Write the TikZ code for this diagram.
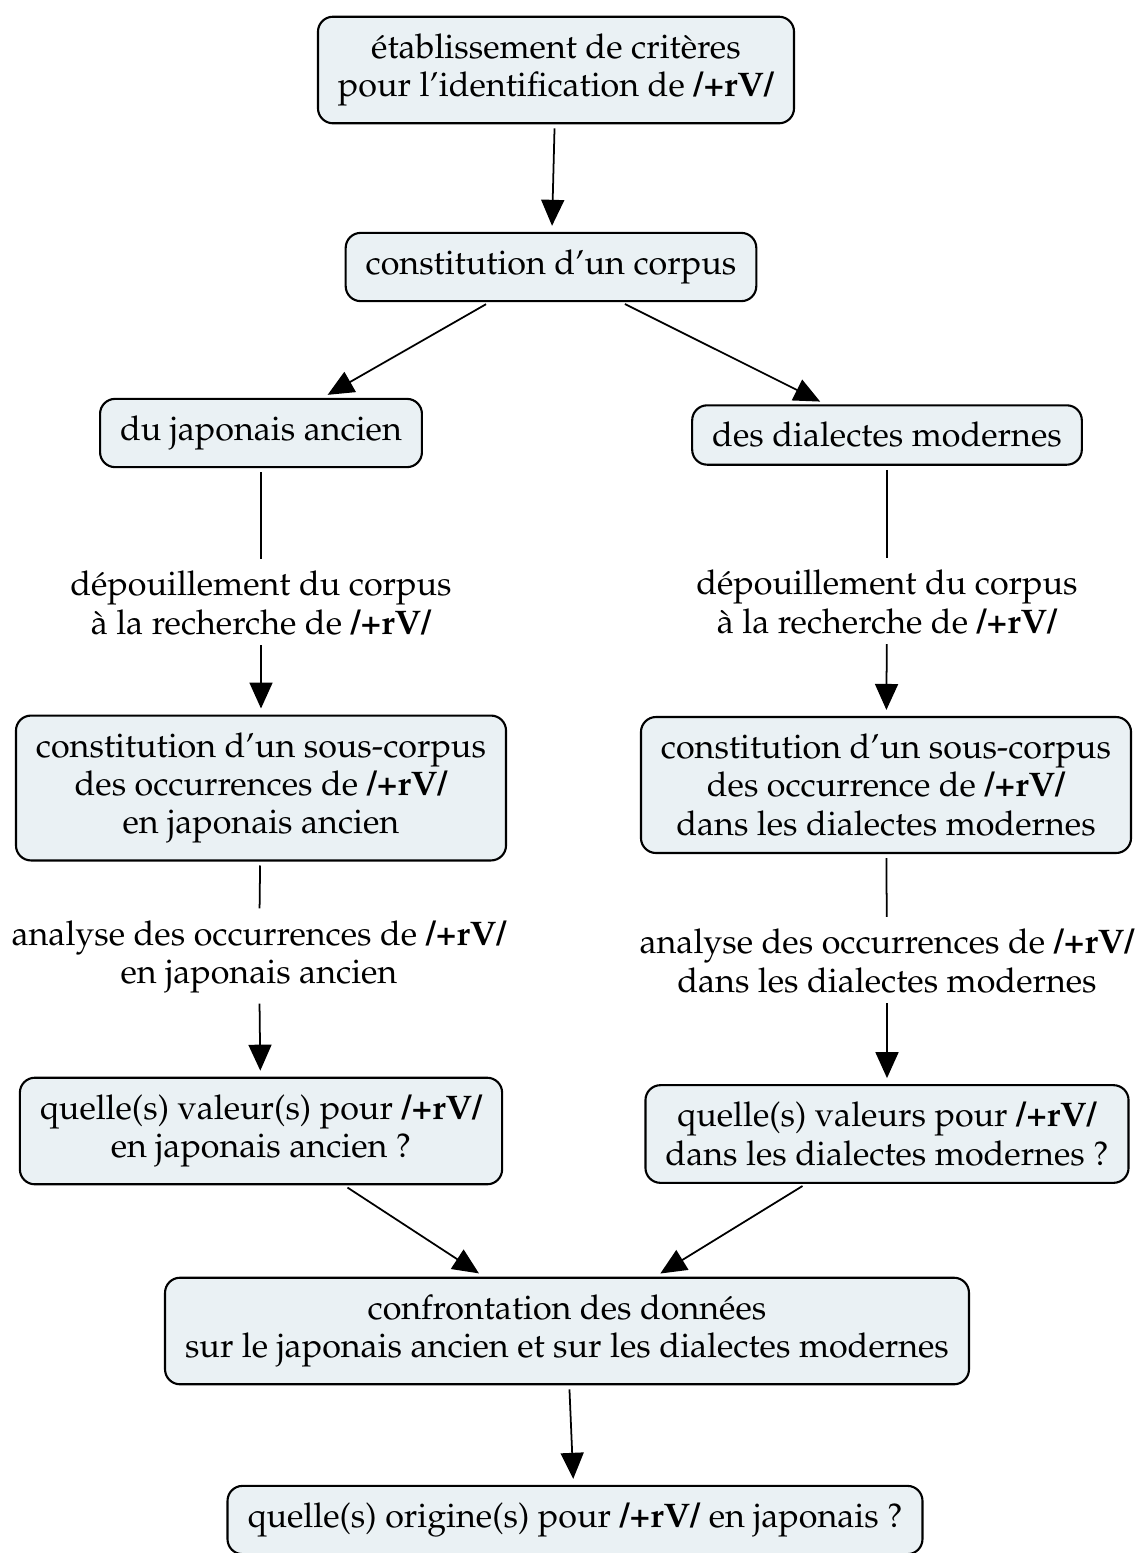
\documentclass[tikz,border=0pt]{standalone}
\usepackage[T1]{fontenc}
\usepackage{mathpazo}
\usetikzlibrary{arrows.meta}
\definecolor{boxfill}{RGB}{234,241,244}
\newcommand{\rvform}{\textbf{/+rV/}}

\begin{document}
\begin{tikzpicture}[x=0.02cm,y=-0.02cm,
		box/.style={draw=black,line width=1.2pt,rounded corners=0.3cm,fill=boxfill,align=center,
			inner xsep=0.4cm,inner ysep=0.34cm,font=\fontsize{19.4}{21.8}\selectfont},
		lbl/.style={align=center,inner sep=0.12cm,font=\fontsize{19.4}{21.8}\selectfont},
		conn/.style={line width=1pt,shorten <=0.08cm,shorten >=0.12cm},
		arr/.style={conn,-{Triangle[length=0.52cm,width=0.46cm]}}]
		%%%%% START %%%%%
		
		\useasboundingbox (0,0) rectangle (1136,1553);
		
		\node[box] (crit) at (556,70) {établissement de critères\\pour l'identification de \rvform};
		\node[box] (corpus) at (551,267) {constitution d'un corpus};
		
		\node[box] (ja) at (261,433) {du japonais ancien};
		\node[box] (dm) at (887,435) {des dialectes modernes};
		
		\node[lbl] (depja) at (261,603) {dépouillement du corpus\\à la recherche de \rvform};
		\node[lbl] (depdm) at (887,602) {dépouillement du corpus\\à la recherche de \rvform};
		
		\node[box] (sousja) at (261,788) {constitution d'un sous-corpus\\des occurrences de \rvform\\en japonais ancien};
		\node[box] (sousdm) at (886,785) {constitution d'un sous-corpus\\des occurrence de \rvform\\dans les dialectes modernes};
		
		\node[lbl] (anaja) at (259,957) {analyse des occurrences de \rvform\\en japonais ancien};
		\node[lbl] (anadm) at (887,961) {analyse des occurrences de \rvform\\dans les dialectes modernes};
		
		\node[box] (valja) at (261,1131) {quelle(s) valeur(s) pour \rvform\\en japonais ancien ?};
		\node[box] (valdm) at (887,1134) {quelle(s) valeurs pour \rvform\\dans les dialectes modernes ?};
		
		\node[box] (confr) at (567,1331) {confrontation des données\\sur le japonais ancien et sur les dialectes modernes};
		\node[box] (orig) at (575,1520) {quelle(s) origine(s) pour \rvform{} en japonais ?};
		
		\draw[arr] (crit) -- (corpus);
		\draw[arr] (corpus) -- (ja);
		\draw[arr] (corpus) -- (dm);
		
		\draw[conn] (ja) -- (depja);
		\draw[arr] (depja) -- (sousja);
		\draw[conn] (dm) -- (depdm);
		\draw[arr] (depdm) -- (sousdm);
		
		\draw[conn] (sousja) -- (anaja);
		\draw[arr] (anaja) -- (valja);
		\draw[conn] (sousdm) -- (anadm);
		\draw[arr] (anadm) -- (valdm);
		
		\draw[arr] (valja) -- (confr);
		\draw[arr] (valdm) -- (confr);
		\draw[arr] (confr) -- (orig);
		
		%%%%% END %%%%%
	\end{tikzpicture}
\end{document}
